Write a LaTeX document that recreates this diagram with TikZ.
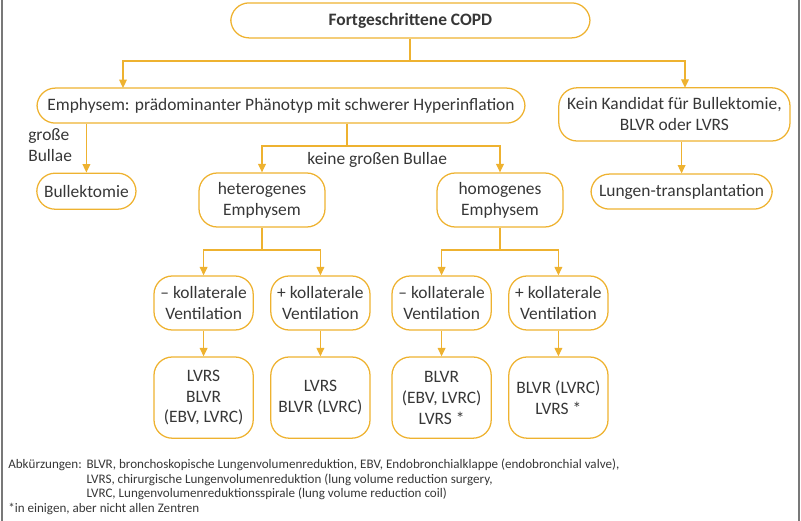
\documentclass[tikz,border=0pt]{standalone}
\usepackage{fontspec}
\setmainfont{Carlito}
\usetikzlibrary{arrows.meta}
\definecolor{gold}{RGB}{238,178,48}
\definecolor{ink}{RGB}{55,55,55}
\definecolor{frame}{RGB}{120,120,120}

\begin{document}
\begin{tikzpicture}[
  box/.style={draw=gold, line width=0.9pt, rounded corners=13pt, align=center,
    inner sep=0pt, text=ink, font=\fontsize{12.4}{14.9}\selectfont},
  arr/.style={draw=gold, line width=0.9pt, -{Triangle[width=5.5pt,length=6pt]}},
  ln/.style={draw=gold, line width=0.9pt},
  note/.style={text=ink, inner sep=0pt, anchor=base west, font=\fontsize{9.3}{10}\selectfont}]
  \useasboundingbox (0cm,0cm) rectangle (20.025cm,-13.025cm);
  \draw[frame, line width=1pt] (0.05cm,0cm) -- (0.05cm,-13.025cm);
  \draw[frame, line width=1pt] (19.975cm,0cm) -- (19.975cm,-13.025cm);
  % boxes
  \node[box, minimum width=8.98cm, minimum height=0.875cm, font=\fontsize{12.4}{14.9}\selectfont\bfseries] (copd) at (10.26cm,-0.51cm) {Fortgeschrittene COPD};
  \node[box, minimum width=12.2cm, minimum height=0.875cm] (emph) at (7.025cm,-2.64cm) {Emphysem: prädominanter Phänotyp mit schwerer Hyperinflation};
  \node[box, minimum width=5.78cm, minimum height=1.33cm] (kein) at (16.86cm,-2.86cm) {Kein Kandidat für Bullektomie,\\BLVR oder LVRS};
  \node[box, minimum width=4.53cm, minimum height=0.875cm] (lung) at (17.04cm,-4.79cm) {Lungen-transplantation};
  \node[box, minimum width=2.48cm, minimum height=0.9cm] (bull) at (2.16cm,-4.78cm) {Bullektomie};
  \node[box, minimum width=3.15cm, minimum height=1.35cm] (het) at (6.55cm,-5cm) {heterogenes\\Emphysem};
  \node[box, minimum width=3.15cm, minimum height=1.35cm] (hom) at (12.5cm,-5cm) {homogenes\\Emphysem};
  \node[box, minimum width=2.48cm, minimum height=1.35cm] (hetm) at (5.09cm,-7.575cm) {-- kollaterale\\Ventilation};
  \node[box, minimum width=2.48cm, minimum height=1.35cm] (hetp) at (8.01cm,-7.575cm) {+ kollaterale\\Ventilation};
  \node[box, minimum width=2.48cm, minimum height=1.35cm] (homm) at (11.04cm,-7.575cm) {-- kollaterale\\Ventilation};
  \node[box, minimum width=2.48cm, minimum height=1.35cm] (homp) at (13.96cm,-7.575cm) {+ kollaterale\\Ventilation};
  \node[box, minimum width=2.48cm, minimum height=2.03cm] (rhetm) at (5.09cm,-9.94cm) {LVRS\\BLVR\\(EBV, LVRC)};
  \node[box, minimum width=2.48cm, minimum height=2.03cm] (rhetp) at (8.01cm,-9.94cm) {LVRS\\BLVR (LVRC)};
  \node[box, minimum width=2.48cm, minimum height=2.03cm] (rhomm) at (11.04cm,-9.94cm) {BLVR\\(EBV, LVRC)\\LVRS *};
  \node[box, minimum width=2.48cm, minimum height=2.03cm] (rhomp) at (13.96cm,-9.94cm) {BLVR (LVRC)\\LVRS *};
  % junctions
  \coordinate (j1) at (10.25cm,-1.525cm);
  \coordinate (j2) at (8.675cm,-3.65cm);
  \coordinate (j3) at (6.55cm,-6.25cm);
  \coordinate (j4) at (12.5cm,-6.25cm);
  % connectors
  \draw[ln] (copd.south -| j1) -- (j1);
  \draw[arr] (j1) -| (3.075cm,-2.2cm);
  \draw[arr] (j1) -| (17.125cm,-2.195cm);
  \draw[arr] (kein.south -| lung.north) -- (lung.north);
  \draw[arr] (emph.south -| bull.north) -- (bull.north);
  \draw[ln] (emph.south -| j2) -- (j2);
  \draw[arr] (j2) -| (het.north);
  \draw[arr] (j2) -| (hom.north);
  \draw[ln] (het.south) -- (j3);
  \draw[arr] (j3) -| (hetm.north);
  \draw[arr] (j3) -| (hetp.north);
  \draw[ln] (hom.south) -- (j4);
  \draw[arr] (j4) -| (homm.north);
  \draw[arr] (j4) -| (homp.north);
  \draw[arr] (hetm) -- (rhetm);
  \draw[arr] (hetp) -- (rhetp);
  \draw[arr] (homm) -- (rhomm);
  \draw[arr] (homp) -- (rhomp);
  % labels
  \node[text=ink, align=left, anchor=north west, inner sep=0pt, font=\fontsize{12.4}{14.9}\selectfont] (gb) at (0.7cm,-3.2cm) {große\\Bullae};
  \node[text=ink, inner sep=0pt, font=\fontsize{12.4}{14.9}\selectfont] (kgb) at (9.43cm,-4cm) {keine großen Bullae};
  % footnote
  \node[note] (abk) at (0.2cm,-11.72cm) {Abkürzungen:};
  \node[note] (f1) at ([xshift=3pt]abk.base east) {BLVR, bronchoskopische Lungenvolumenreduktion, EBV, Endobronchialklappe (endobronchial valve),};
  \node[note] (f2) at ([yshift=-0.363cm]f1.base west) {LVRS, chirurgische Lungenvolumenreduktion (lung volume reduction surgery,};
  \node[note] (f3) at ([yshift=-0.363cm]f2.base west) {LVRC, Lungenvolumenreduktionsspirale (lung volume reduction coil)};
  \node[note] (f4) at (0.2cm,-12.81cm) {*in einigen, aber nicht allen Zentren};
\end{tikzpicture}
\end{document}
